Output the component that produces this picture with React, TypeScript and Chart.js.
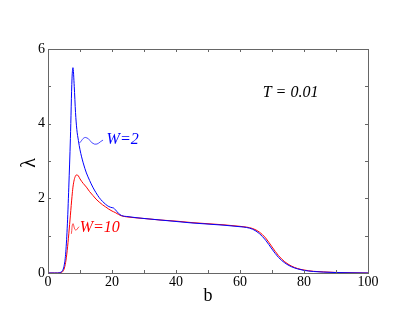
import React, { useEffect, useRef } from "react";
import { Chart, registerables } from "chart.js";

Chart.register(...registerables);

const bValues = [0, 2, 3, 4, 4.5, 5, 5.5, 6, 6.5, 7, 7.5, 7.8, 8.2, 8.6, 9, 9.5, 10, 11, 12, 13, 14, 15, 16, 17, 18, 19, 20, 20.5, 21, 22, 23, 25, 30, 35, 40, 45, 50, 55, 60, 62, 64, 66, 68, 70, 72, 74, 76, 78, 80, 83, 86, 90, 95, 100];
const lambdaW2 = [0, 0, 0, 0.02, 0.06, 0.18, 0.5, 1.2, 2.3, 3.6, 5.2, 5.5, 5.0, 4.3, 3.85, 3.55, 3.3, 2.95, 2.68, 2.48, 2.3, 2.15, 2.02, 1.92, 1.84, 1.78, 1.75, 1.74, 1.7, 1.6, 1.54, 1.51, 1.46, 1.42, 1.38, 1.34, 1.31, 1.28, 1.24, 1.22, 1.17, 1.06, 0.88, 0.64, 0.42, 0.27, 0.17, 0.11, 0.07, 0.04, 0.025, 0.012, 0.005, 0];
const lambdaW10 = [0, 0, 0, 0.01, 0.03, 0.1, 0.28, 0.6, 1.05, 1.55, 2.05, 2.3, 2.5, 2.6, 2.63, 2.6, 2.52, 2.4, 2.3, 2.18, 2.08, 1.98, 1.9, 1.83, 1.77, 1.71, 1.66, 1.64, 1.62, 1.57, 1.53, 1.5, 1.46, 1.42, 1.39, 1.35, 1.32, 1.29, 1.25, 1.23, 1.19, 1.1, 0.94, 0.7, 0.47, 0.3, 0.19, 0.12, 0.08, 0.045, 0.03, 0.015, 0.006, 0];

const wiggleW2B = [9.8, 11.8, 14.6, 17.2];
const wiggleW2L = [3.48, 3.63, 3.45, 3.56];
const wiggleW10B = [7.3, 7.8, 8.6, 9.7];
const wiggleW10L = [1.05, 1.32, 1.15, 1.24];

const xTicks = [0, 20, 40, 60, 80, 100];
const xMinor = [10, 30, 50, 70, 90];
const yTicks = [0, 2, 4, 6];
const yMinor = [1, 3, 5];

const labelW2 = { text: "W=2", b: 18.3, l: 3.56 };
const labelW10 = { text: "W=10", b: 9.9, l: 1.2 };
const labelT = { text: "T = 0.01", b: 67.1, l: 4.84 };

const toPts = (xs: number[], ys: number[]) => xs.map((x, i) => ({ x, y: ys[i] }));

const SERIF = "'Liberation Serif', 'DejaVu Serif', serif";

const framePlugin = {
  id: "frame",
  afterDatasetsDraw(chart: any) {
    const { ctx, chartArea, scales } = chart;
    const xs = scales.x;
    const ys = scales.y;
    const { left, right, top, bottom } = chartArea;
    ctx.save();
    ctx.strokeStyle = "#666666";
    ctx.lineWidth = 1;
    ctx.strokeRect(left + 0.5, top + 0.5, right - left, bottom - top);
    const tl = 3;
    ctx.beginPath();
    [...xTicks, ...xMinor].forEach((v) => {
      const px = Math.round(xs.getPixelForValue(v)) + 0.5;
      ctx.moveTo(px, bottom);
      ctx.lineTo(px, bottom - tl);
      ctx.moveTo(px, top);
      ctx.lineTo(px, top + tl);
    });
    [...yTicks, ...yMinor].forEach((v) => {
      const py = Math.round(ys.getPixelForValue(v)) + 0.5;
      ctx.moveTo(left, py);
      ctx.lineTo(left + tl, py);
      ctx.moveTo(right, py);
      ctx.lineTo(right - tl, py);
    });
    ctx.stroke();

    ctx.textBaseline = "middle";
    ctx.textAlign = "left";
    ctx.font = `italic 16px ${SERIF}`;
    ctx.fillStyle = "#0000ff";
    ctx.fillText(labelW2.text, xs.getPixelForValue(labelW2.b), ys.getPixelForValue(labelW2.l));
    ctx.fillStyle = "#ff0000";
    ctx.fillText(labelW10.text, xs.getPixelForValue(labelW10.b), ys.getPixelForValue(labelW10.l));
    ctx.fillStyle = "#000000";
    ctx.fillText(labelT.text, xs.getPixelForValue(labelT.b), ys.getPixelForValue(labelT.l));

    ctx.font = `18px ${SERIF}`;
    ctx.textAlign = "center";
    ctx.fillText("b", (left + right) / 2, 296);
    ctx.save();
    ctx.font = `20px ${SERIF}`;
    ctx.translate(30, (top + bottom) / 2 + 2);
    ctx.rotate(-Math.PI / 2);
    ctx.fillText("λ", 0, 0);
    ctx.restore();
    ctx.restore();
  },
};

export default function App() {
  const ref = useRef<HTMLCanvasElement | null>(null);
  useEffect(() => {
    if (!ref.current) return;
    const chart = new Chart(ref.current, {
      type: "line",
      data: {
        datasets: [
          {
            label: "W=2",
            data: toPts(bValues, lambdaW2),
            borderColor: "#0000ff",
            borderWidth: 1,
            pointRadius: 0,
            cubicInterpolationMode: "monotone",
          },
          {
            label: "W=10",
            data: toPts(bValues, lambdaW10),
            borderColor: "#ff0000",
            borderWidth: 1,
            pointRadius: 0,
            cubicInterpolationMode: "monotone",
          },
          {
            label: "w2 pointer",
            data: toPts(wiggleW2B, wiggleW2L),
            borderColor: "#0000ff",
            borderWidth: 0.7,
            pointRadius: 0,
            tension: 0.45,
          },
          {
            label: "w10 pointer",
            data: toPts(wiggleW10B, wiggleW10L),
            borderColor: "#ff0000",
            borderWidth: 0.7,
            pointRadius: 0,
            tension: 0.45,
          },
        ],
      },
      options: {
        responsive: false,
        animation: false,
        layout: { padding: { left: 0, right: 47, top: 49, bottom: 0 } },
        plugins: { legend: { display: false }, tooltip: { enabled: false } },
        scales: {
          x: {
            type: "linear",
            min: 0,
            max: 100,
            afterFit: (s: any) => { s.height = 48; },
            afterBuildTicks: (s: any) => { s.ticks = xTicks.map((v) => ({ value: v })); },
            grid: { display: false, drawTicks: false },
            border: { display: false },
            ticks: { color: "#000", font: { family: SERIF, size: 14 }, padding: 1, maxRotation: 0 },
          },
          y: {
            type: "linear",
            min: 0,
            max: 6,
            afterFit: (s: any) => { s.width = 48; },
            afterBuildTicks: (s: any) => { s.ticks = yTicks.map((v) => ({ value: v })); },
            grid: { display: false, drawTicks: false },
            border: { display: false },
            ticks: { color: "#000", font: { family: SERIF, size: 14 }, padding: 3 },
          },
        },
      },
      plugins: [framePlugin],
    } as any);
    return () => chart.destroy();
  }, []);
  return (
    <div style={{ position: "fixed", left: 0, top: 0, width: 415, height: 321, background: "#fff" }}>
      <canvas ref={ref} width={415} height={321} />
    </div>
  );
}
